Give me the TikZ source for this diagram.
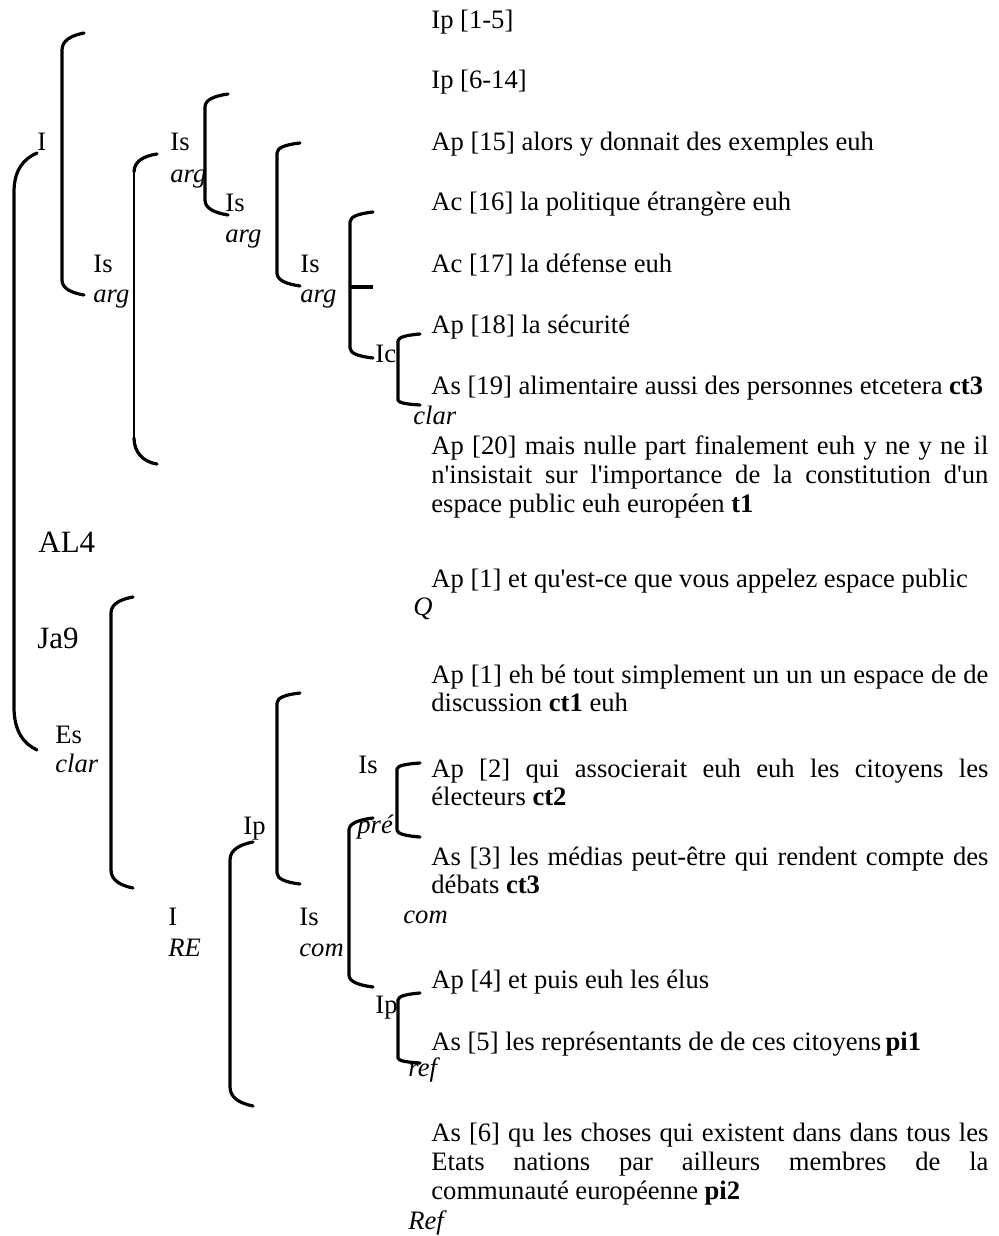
\documentclass[tikz,border=0pt]{standalone}
\usepackage{fontspec}
\newfontfamily\tnr{Liberation Serif}
\tikzset{
  lbl/.style={anchor=base west, inner sep=0pt, font=\tnr\fontsize{13.3}{14.5}\selectfont},
  biglbl/.style={anchor=base west, inner sep=0pt, font=\tnr\fontsize{15.5}{17}\selectfont},
  brk/.style={line width=1.6pt, line cap=round, line join=round},
}
% #2 x of vertical, #3 y of top end, #4 y where vertical starts, #5 y where vertical ends, #6 y of bottom end, #7 x of ends
\newcommand{\mybracket}[7][]{%
  \draw[brk,#1] (#7,#3) .. controls ({#7-0.6*(#7-#2)},{#3+0.15*(#4-#3)}) and (#2,{#4-0.55*(#4-#3)}) .. (#2,#4)
     -- (#2,#5) .. controls (#2,{#5+0.55*(#6-#5)}) and ({#7-0.6*(#7-#2)},{#6-0.15*(#6-#5)}) .. (#7,#6);}
\begin{document}
\begin{tikzpicture}[x=0.5pt,y=-0.5pt]
\useasboundingbox (0,0) rectangle (998,1236);
% ---------- brackets ----------
\mybracket{14}{153}{192}{707}{750}{37}
\mybracket{62}{33}{50}{280}{295}{84}
\mybracket[line width=0.8pt]{134}{154}{170}{440}{464}{157}
\draw[brk] (157,154) .. controls (143,156) and (134,162) .. (134,172);
\draw[brk] (134,438) .. controls (134,452) and (143,462) .. (157,464);
\mybracket{205}{94}{107}{200}{215}{228}
\mybracket{277}{143}{153}{273}{286}{300}
\mybracket{350}{212}{222}{348}{358}{373}
\draw[line width=2.2pt] (350,287) -- (373,287);
\mybracket{398}{334}{341}{400}{405}{420}
\mybracket{111}{597}{613}{870}{888}{133}
\mybracket{230}{842}{860}{1087}{1106}{253}
\mybracket{277}{693}{703}{873}{884}{300}
\mybracket{397}{763}{769}{830}{837}{420}
\mybracket{349}{818}{830}{975}{987}{373}
\mybracket{398}{993}{1000}{1058}{1063}{420}
% ---------- left labels ----------
\node[lbl] (lI) at (37,150) {I};
\node[lbl] (lIs1) at (170,150) {Is};
\node[lbl] (la1) at (170,182) {\textit{arg}};
\node[lbl] (lIs2) at (225,211) {Is};
\node[lbl] (la2) at (225,242) {\textit{arg}};
\node[lbl] (lIs3) at (93,272) {Is};
\node[lbl] (la3) at (93,302) {\textit{arg}};
\node[lbl] (lIs4) at (300,272) {Is};
\node[lbl] (la4) at (300,302) {\textit{arg}};
\node[lbl] (lIc) at (375,362) {Ic};
\node[biglbl] (lAL) at (38,552) {AL4};
\node[biglbl] (lJa) at (37,648) {Ja9};
\node[lbl] (lEs) at (55,743) {Es};
\node[lbl] (lcl) at (55,772) {\textit{clar}};
\node[lbl] (lIs5) at (358,773) {Is};
\node[lbl] (lpre) at (357,833) {\textit{pré}};
\node[lbl] (lIp1) at (243,834) {Ip};
\node[lbl] (lI2) at (168,925) {I};
\node[lbl] (lRE) at (168,956) {\textit{RE}};
\node[lbl] (lIs6) at (299,925) {Is};
\node[lbl] (lcom) at (299,956) {\textit{com}};
\node[lbl] (lIp2) at (375,1013) {Ip};
% ---------- right text ----------
\node[lbl] (r1) at (431,29) {Ip [1-5]};
\node[lbl] (r2) at (431,89) {Ip [6-14]};
\node[lbl] (r3) at (431,150) {Ap [15] alors y donnait des exemples euh};
\node[lbl] (r4) at (431,210) {Ac [16] la politique étrangère euh};
\node[lbl] (r5) at (431,272) {Ac [17] la défense euh};
\node[lbl] (r6) at (431,333) {Ap [18] la sécurité};
\node[lbl] (r7) at (431,394) {As [19] alimentaire aussi des personnes etcetera \textbf{ct3}};
\node[lbl] (c1) at (413,424) {\textit{clar}};
\node[lbl] (r8a) at (431,454) {\makebox[278.5pt][s]{Ap [20] mais nulle part finalement euh y ne y ne il}};
\node[lbl] (r8b) at (431,483) {\makebox[278.5pt][s]{n'insistait sur l'importance de la constitution d'un}};
\node[lbl] (r8c) at (431,512) {espace public euh européen \textbf{t1}};
\node[lbl] (r9) at (431,587) {Ap [1] et qu'est-ce que vous appelez espace public};
\node[lbl] (cQ) at (413,615) {\textit{Q}};
\node[lbl] (r10a) at (431,683) {\makebox[278.5pt][s]{Ap [1] eh bé tout simplement un un un espace de de}};
\node[lbl] (r10b) at (431,711) {discussion \textbf{ct1} euh};
\node[lbl] (r11a) at (431,777) {\makebox[278.5pt][s]{Ap [2] qui associerait euh euh les citoyens les}};
\node[lbl] (r11b) at (431,805) {électeurs \textbf{ct2}};
\node[lbl] (r12a) at (431,865) {\makebox[278.5pt][s]{As [3] les médias peut-être qui rendent compte des}};
\node[lbl] (r12b) at (431,893) {débats \textbf{ct3}};
\node[lbl] (ccom) at (403,923) {\textit{com}};
\node[lbl] (r13) at (431,988) {Ap [4] et puis euh les élus};
\node[lbl] (r14) at (431,1050) {As [5] les représentants de de ces citoyens\,\textbf{pi1}};
\node[lbl] (cref) at (408,1076) {\textit{ref}};
\node[lbl] (r15a) at (431,1141) {\makebox[278.5pt][s]{As [6] qu les choses qui existent dans dans tous les}};
\node[lbl] (r15b) at (431,1170) {\makebox[278.5pt][s]{Etats nations par ailleurs membres de la}};
\node[lbl] (r15c) at (431,1199) {communauté européenne \textbf{pi2}};
\node[lbl] (cRef) at (408,1229) {\textit{Ref}};
\end{tikzpicture}
\end{document}
